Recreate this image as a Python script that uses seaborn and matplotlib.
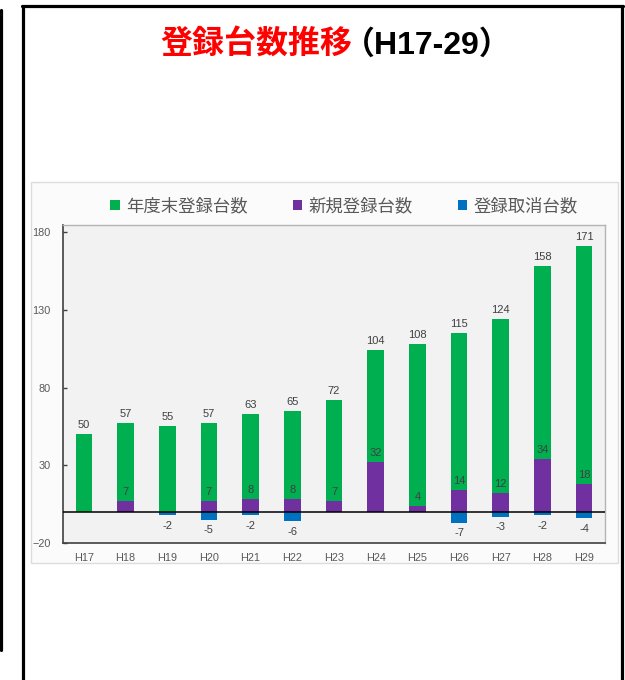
import matplotlib
matplotlib.use("Agg")
import matplotlib.pyplot as plt
import seaborn as sns
import pandas as pd
from matplotlib.patches import Patch, Rectangle
from matplotlib.lines import Line2D

# data
years = ["H17", "H18", "H19", "H20", "H21", "H22", "H23",
         "H24", "H25", "H26", "H27", "H28", "H29"]
total = [50, 57, 55, 57, 63, 65, 72, 104, 108, 115, 124, 158, 171]
new_reg = [0, 7, 0, 7, 8, 8, 7, 32, 4, 14, 12, 34, 18]
cancel = [0, 0, -2, -5, -2, -6, 0, 0, 0, -7, -3, -2, -4]
series_names = ["年度末登録台数", "新規登録台数", "登録取消台数"]
colors = ["#00b050", "#7030a0", "#0070c0"]
y_ticks = [-20, 30, 80, 130, 180]

df = pd.DataFrame({"year": years, "total": total, "new": new_reg, "cancel": cancel})

sns.set_theme(style="white")
plt.rcParams["font.family"] = ["Noto Sans CJK JP", "DejaVu Sans"]

W, H = 625, 680
fig = plt.figure(figsize=(W / 100, H / 100), dpi=100)
fig.patch.set_facecolor("white")

def fx(px):
    return px / W

def fy(py):
    return 1 - py / H

# outer black frames
frame_kw = dict(color="black", lw=2.3, transform=fig.transFigure, zorder=10)
fig.add_artist(Line2D([fx(22.5), fx(22.5)], [fy(5.5), fy(680)], **frame_kw))
fig.add_artist(Line2D([fx(621.5), fx(621.5)], [fy(5.5), fy(680)], **frame_kw))
fig.add_artist(Line2D([fx(21.5), fx(622.5)], [fy(5.5), fy(5.5)], **frame_kw))
fig.add_artist(Line2D([fx(1.5), fx(1.5)], [fy(10), fy(650)], **frame_kw))

# chart panel behind the axes
fig.add_artist(Rectangle((fx(31), fy(563)), fx(618) - fx(31), fy(182) - fy(563),
                         transform=fig.transFigure, facecolor="#fbfbfb",
                         edgecolor="#dcdcdc", lw=1, zorder=-1))

# title
fig.text(fx(352), fy(45), "登録台数推移", color="red", fontsize=23,
         fontweight="bold", ha="right", va="center",
         family=["Noto Sans CJK JP", "DejaVu Sans"])
fig.text(fx(343), fy(45), "（H17-29）", color="black", fontsize=23,
         fontweight="bold", ha="left", va="center",
         family=["Liberation Sans", "Noto Sans CJK JP", "DejaVu Sans"])

ax = fig.add_axes([fx(63), fy(543), fx(605) - fx(63), fy(225) - fy(543)])
ax.set_facecolor("#f2f2f2")

for col, c in zip(["total", "new", "cancel"], colors):
    sns.barplot(data=df, x="year", y=col, color=c, width=0.4, saturation=1,
                ax=ax, zorder=2, errorbar=None, linewidth=0, edgecolor="none")

label_kw = dict(fontsize=8, color="#404040", family=["Liberation Sans", "DejaVu Sans"])
ax.bar_label(ax.containers[0], labels=[str(v) for v in total], padding=3, **label_kw)
ax.bar_label(ax.containers[1], labels=[str(v) if v else "" for v in new_reg],
             padding=3, **label_kw)
ax.bar_label(ax.containers[2], labels=[str(v) if v else "" for v in cancel],
             padding=4, **label_kw)

ax.axhline(0, color="black", lw=1.1, zorder=3)
ax.set_xlim(-0.5, 12.5)
ax.set_ylim(-20, 184.6)
ax.set_yticks(y_ticks)
ax.set_xlabel("")
ax.set_ylabel("")

for side in ["left", "bottom"]:
    ax.spines[side].set_color("#404040")
    ax.spines[side].set_linewidth(1.2)
for side in ["top", "right"]:
    ax.spines[side].set_color("#b4b4b4")
    ax.spines[side].set_linewidth(1)

ax.tick_params(axis="y", direction="in", length=3, width=1, color="#404040",
               pad=9, labelsize=7.8, labelcolor="#595959", left=True)
ax.tick_params(axis="x", length=0, pad=7, labelsize=7.8, labelcolor="#595959")
for lab in ax.get_xticklabels() + ax.get_yticklabels():
    lab.set_family(["Liberation Sans", "DejaVu Sans"])

handles = [Patch(facecolor=c, edgecolor="none") for c in colors]
fig.legend(handles, series_names, loc="center", bbox_to_anchor=(fx(344), fy(206)),
           ncol=3, frameon=False, fontsize=12.5, labelcolor="#595959",
           handlelength=0.55, handleheight=0.55, handletextpad=0.35,
           columnspacing=2.6)

fig.savefig("out.png", dpi=100)
